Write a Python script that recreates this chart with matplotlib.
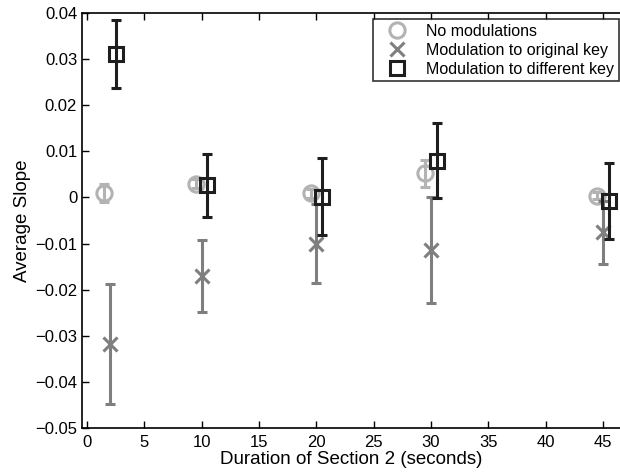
import matplotlib
matplotlib.use('Agg')
import matplotlib.pyplot as plt
import numpy as np

plt.rcParams['font.family'] = ['Liberation Sans', 'DejaVu Sans']

# data
x_none = [1.5, 9.5, 19.5, 29.5, 44.5]
y_none = [0.0010, 0.0030, 0.0009, 0.0052, 0.0004]
e_none = [0.0020, 0.0010, 0.0010, 0.0030, 0.0008]

x_orig = [2, 10, 20, 30, 45]
y_orig = [-0.0317, -0.0170, -0.0100, -0.0115, -0.0076]
e_orig = [0.0130, 0.0078, 0.0085, 0.0115, 0.0068]

x_diff = [2.5, 10.5, 20.5, 30.5, 45.5]
y_diff = [0.0311, 0.0026, 0.0002, 0.0080, -0.0008]
e_diff = [0.0073, 0.0068, 0.0083, 0.0082, 0.0082]

xticks = [0, 5, 10, 15, 20, 25, 30, 35, 40, 45]
yticks = [0.04, 0.03, 0.02, 0.01, 0, -0.01, -0.02, -0.03, -0.04, -0.05]
ytick_labels = ['0.04', '0.03', '0.02', '0.01', '0', '\u22120.01', '\u22120.02',
                '\u22120.03', '\u22120.04', '\u22120.05']

fig = plt.figure(figsize=(6.2, 4.74), dpi=100)
ax = fig.add_axes([82 / 620, 1 - 428 / 474, 1 - 82 / 620, (428 - 13) / 474])

ax.errorbar(x_none, y_none, yerr=e_none, fmt='o', color='#b3b3b3', mfc='none',
            mec='#b3b3b3', ms=11, mew=2.2, elinewidth=2.2, capsize=3.6, capthick=2.2,
            label='No modulations', zorder=2)
ax.errorbar(x_orig, y_orig, yerr=e_orig, fmt='x', color='#7f7f7f', ms=10, mew=2.2,
            elinewidth=2.2, capsize=3.6, capthick=2.2,
            label='Modulation to original key', zorder=3)
ax.errorbar(x_diff, y_diff, yerr=e_diff, fmt='s', color='#1e1e1e', mfc='none',
            mec='#1e1e1e', ms=10.5, mew=2.2, elinewidth=2.2, capsize=3.6, capthick=2.2,
            label='Modulation to different key', zorder=4)

ax.set_xlim(-0.45, 46.5)
ax.set_ylim(-0.05, 0.04)
ax.set_xticks(xticks)
ax.set_yticks(yticks)
ax.set_yticklabels(ytick_labels)
ax.tick_params(direction='in', length=5, width=1, labelsize=12, top=True, right=False)
ax.tick_params(axis='x', pad=5)
ax.spines['right'].set_visible(False)
for s in ['left', 'top', 'bottom']:
    ax.spines[s].set_linewidth(1.2)

ax.set_xlabel('Duration of Section 2 (seconds)', fontsize=13.5, labelpad=1)
ax.set_ylabel('Average Slope', fontsize=13.5, labelpad=3)

handles, labels = ax.get_legend_handles_labels()
handles = [h[0] for h in handles]
leg = ax.legend(handles, labels, loc='upper right', bbox_to_anchor=(0.998, 0.986),
                fontsize=11.5, frameon=True, fancybox=False, borderpad=0.3,
                labelspacing=0.25, handletextpad=0.6, handlelength=2.4,
                borderaxespad=0)
leg.get_frame().set_edgecolor('black')
leg.get_frame().set_linewidth(1.2)

fig.savefig('out.png', dpi=100)
